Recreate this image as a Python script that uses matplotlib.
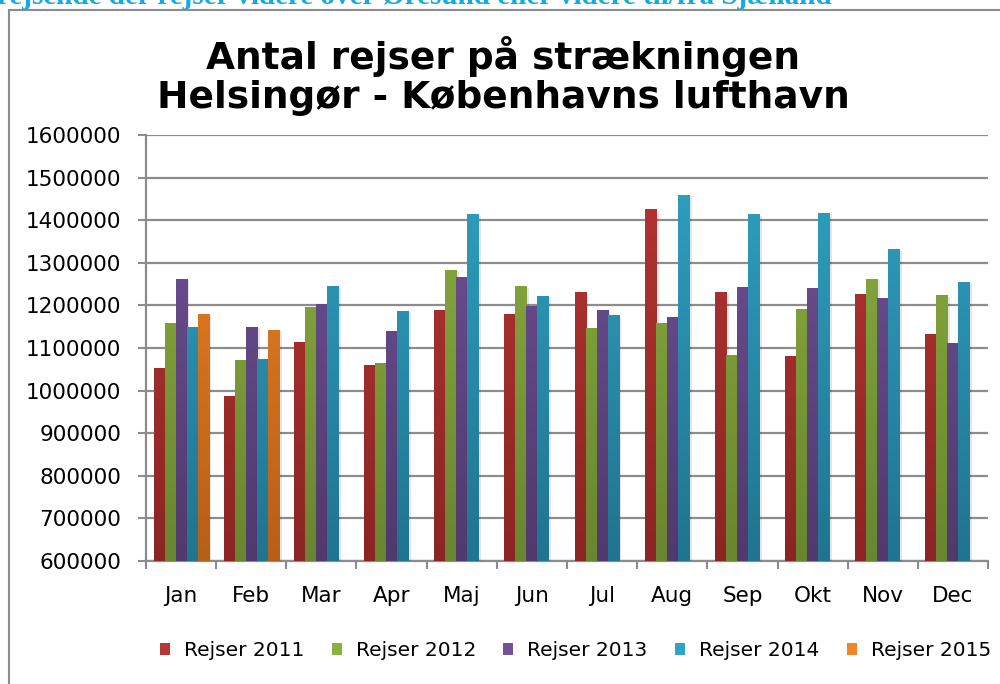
import numpy as np
import matplotlib
matplotlib.use('Agg')
import matplotlib.pyplot as plt
import matplotlib.patheffects as pe
from matplotlib.patches import Rectangle
from matplotlib.colors import LinearSegmentedColormap
from matplotlib.ticker import FixedLocator

MONTHS = ['Jan', 'Feb', 'Mar', 'Apr', 'Maj', 'Jun', 'Jul', 'Aug', 'Sep', 'Okt', 'Nov', 'Dec']
SERIES = ['Rejser 2011', 'Rejser 2012', 'Rejser 2013', 'Rejser 2014', 'Rejser 2015']

rejser_2011 = [1053000, 987000, 1114000, 1060000, 1189000, 1180000, 1231000, 1426000, 1231000, 1081000, 1227000, 1133000]
rejser_2012 = [1158000, 1072000, 1196000, 1064000, 1283000, 1245000, 1147000, 1158000, 1083000, 1191000, 1262000, 1224000]
rejser_2013 = [1262000, 1149000, 1203000, 1140000, 1267000, 1199000, 1189000, 1173000, 1243000, 1241000, 1217000, 1112000]
rejser_2014 = [1149000, 1074000, 1245000, 1187000, 1414000, 1222000, 1177000, 1459000, 1414000, 1417000, 1332000, 1255000]
rejser_2015 = [1180000, 1142000, np.nan, np.nan, np.nan, np.nan, np.nan, np.nan, np.nan, np.nan, np.nan, np.nan]

# (top colour, bottom colour) for the gradient fills
COLORS = [('#b93634', '#8a2523'), ('#8db140', '#698530'), ('#72539b', '#50396d'),
          ('#31a3c4', '#20748f'), ('#f08526', '#b65f18')]

plt.rcParams['font.family'] = ['DejaVu Sans']

fig = plt.figure(figsize=(10, 6.84), dpi=100)
ax = fig.add_axes([0.146, 0.180, 0.842, 0.6226])

# frame around the chart and the clipped caption line above it
fig.patches.append(Rectangle((0.009, -0.05), 1.2, 1.035, transform=fig.transFigure,
                             fill=False, edgecolor='#8c8c8c', lw=1.5))
fig.text(-0.003, 1 - 4 / 684, 'rejsende der rejser videre over Øresund eller videre til/fra Sjælland',
         color='#1aa9dc', fontsize=21, fontweight='bold', family='Liberation Serif',
         va='baseline', ha='left')

x = np.arange(len(MONTHS))
n = len(SERIES)
w = 0.157
data = [rejser_2011, rejser_2012, rejser_2013, rejser_2014, rejser_2015]

ymin, ymax = 600000, 1600000
all_bars = []
for i, (vals, label, (ctop, cbot)) in enumerate(zip(data, SERIES, COLORS)):
    pos = x + (i - (n - 1) / 2) * w
    heights = np.array(vals, dtype=float) - ymin
    bars = ax.bar(pos, heights, w, bottom=ymin, color=ctop, label=label, zorder=3, linewidth=0)
    cmap = LinearSegmentedColormap.from_list('g%d' % i, [cbot, ctop])
    grad = np.linspace(0, 1, 256).reshape(-1, 1)
    for b in bars:
        if np.isnan(b.get_height()):
            continue
        all_bars.append(b)
        bx = b.get_x()
        im = ax.imshow(grad, cmap=cmap, aspect='auto', origin='lower',
                       extent=(bx, bx + b.get_width(), ymin, ymax), zorder=3.5)
        im.set_clip_path(b)

ax.set_xlim(-0.5, len(MONTHS) - 0.5)
ax.set_ylim(ymin, ymax)
ax.set_xticks(x)
ax.set_xticklabels(MONTHS)
ax.xaxis.set_minor_locator(FixedLocator(np.arange(-0.5, len(MONTHS), 1)))
ax.tick_params(axis='x', which='major', length=0, pad=18, labelsize=15.5)
ax.tick_params(axis='x', which='minor', length=5.8, width=1.5, color='#8c8c8c')
yt = np.arange(600000, 1600001, 100000)
ax.set_yticks(yt)
ax.set_yticklabels([str(v) for v in yt])
ax.tick_params(axis='y', length=5.8, width=1.5, color='#8c8c8c', labelsize=15.5, pad=12)
ax.grid(axis='y', color='#8c8c8c', lw=1.6, zorder=0)
ax.set_axisbelow(True)
for s in ['top', 'right']:
    ax.spines[s].set_visible(False)
for s in ['left', 'bottom']:
    ax.spines[s].set_color('#8c8c8c')
    ax.spines[s].set_linewidth(1.6)

fig.text(0.503, 0.889, 'Antal rejser på strækningen\nHelsingør - Københavns lufthavn',
         ha='center', va='center', fontsize=27, fontweight='bold', family='DejaVu Sans',
         linespacing=1.1)

leg = ax.legend(loc='center', bbox_to_anchor=(0.51, -0.211), ncol=5, frameon=False,
                fontsize=14.5, handlelength=0.5, handleheight=0.5, handletextpad=0.7,
                columnspacing=1.35)

# soft shadow on the bars, added after the legend so the legend keys stay plain
shadow = [pe.SimplePatchShadow(offset=(2, -1), alpha=0.1, shadow_rgbFace='k'), pe.Normal()]
for b in all_bars:
    b.set_path_effects(shadow)

fig.savefig('out.png', dpi=100)
